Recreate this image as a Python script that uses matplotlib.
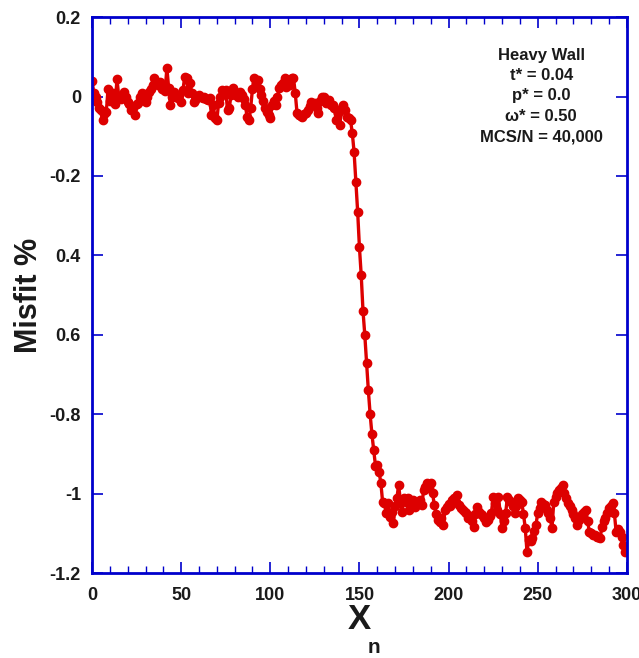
import matplotlib
matplotlib.use('Agg')
from matplotlib import pyplot as plt
from matplotlib.ticker import MultipleLocator
import numpy as np

plt.rcParams['font.family'] = ['Liberation Sans', 'DejaVu Sans']
plt.rcParams['font.weight'] = 'bold'

# misfit values, one per site 0..300
misfit = [
    0.04, 0.01, 0.0, -0.015, -0.03, -0.035, -0.06, -0.045, -0.04, 0.02,
    -0.01, 0.0, 0.01, -0.02, 0.044, 0.0, -0.005, 0.005, 0.011, 0.0,
    -0.014, -0.02, -0.034, -0.03, -0.047, -0.02, -0.016, 0.0, 0.009, -0.005,
    -0.014, 0.0, 0.011, 0.02, 0.03, 0.047, 0.035, 0.029, 0.037, 0.02,
    0.03, 0.015, 0.072, 0.021, -0.021, 0.0, 0.011, 0.0, -0.004, 0.005,
    -0.014, 0.016, 0.05, 0.047, 0.009, 0.034, 0.01, -0.014, -0.009, 0.0,
    0.004, 0.0, -0.004, 0.0, -0.005, -0.009, -0.004, -0.047, -0.021, -0.054,
    -0.06, -0.016, 0.0, 0.016, 0.01, 0.016, -0.034, -0.029, 0.005, 0.021,
    0.01, 0.004, 0.0, 0.011, 0.005, -0.005, -0.021, -0.052, -0.06, -0.029,
    0.02, 0.047, 0.035, 0.042, 0.02, 0.004, -0.01, -0.029, -0.04, -0.047,
    -0.054, -0.021, -0.01, -0.021, 0.0, 0.021, 0.03, 0.035, 0.047, 0.024,
    0.035, 0.03, 0.047, 0.047, 0.009, -0.042, -0.047, -0.05, -0.052, -0.045,
    -0.042, -0.034, -0.025, -0.014, -0.02, -0.016, -0.03, -0.042, -0.01, 0.0,
    0.0, -0.016, -0.014, -0.009, -0.021, -0.021, -0.03, -0.06, -0.042, -0.072,
    -0.03, -0.021, -0.034, -0.052, -0.054, -0.06, -0.092, -0.14, -0.215, -0.29,
    -0.38, -0.45, -0.54, -0.60, -0.67, -0.74, -0.80, -0.85, -0.89, -0.93,
    -0.929, -0.945, -0.972, -1.021, -1.024, -1.049, -1.024, -1.059, -1.046, -1.074,
    -1.03, -1.011, -0.978, -1.02, -1.046, -1.011, -1.02, -1.011, -1.041, -1.025,
    -1.016, -1.034, -1.02, -1.024, -1.015, -1.029, -0.991, -0.983, -0.973, -0.985,
    -0.973, -0.998, -1.029, -1.05, -1.067, -1.072, -1.06, -1.079, -1.041, -1.034,
    -1.025, -1.03, -1.016, -1.01, -1.02, -1.004, -1.029, -1.035, -1.04, -1.045,
    -1.049, -1.06, -1.055, -1.07, -1.084, -1.05, -1.034, -1.045, -1.05, -1.054,
    -1.06, -1.071, -1.065, -1.055, -1.049, -1.009, -1.024, -1.041, -1.009, -1.05,
    -1.087, -1.07, -1.049, -1.009, -1.015, -1.021, -1.03, -1.049, -1.03, -1.011,
    -1.015, -1.021, -1.05, -1.087, -1.147, -1.117, -1.12, -1.112, -1.095, -1.079,
    -1.049, -1.035, -1.021, -1.025, -1.029, -1.04, -1.049, -1.06, -1.087, -1.021,
    -1.009, -0.998, -0.99, -0.985, -0.978, -0.998, -1.01, -1.024, -1.03, -1.041,
    -1.05, -1.06, -1.079, -1.065, -1.059, -1.05, -1.045, -1.041, -1.07, -1.097,
    -1.1, -1.103, -1.105, -1.108, -1.11, -1.112, -1.084, -1.07, -1.06, -1.049,
    -1.035, -1.03, -1.024, -1.049, -1.097, -1.09, -1.097, -1.11, -1.13, -1.147,
    -1.145,
]
sites = np.arange(len(misfit))

yticks = [0.2, 0, -0.2, -0.4, -0.6, -0.8, -1, -1.2]
ytick_labels = ['0.2', '0', '-0.2', '0.4', '0.6', '-0.8', '-1', '-1.2']
xticks = [0, 50, 100, 150, 200, 250, 300]

info = 'Heavy Wall\nt* = 0.04\np* = 0.0\n\u03c9* = 0.50\nMCS/N = 40,000'

red = '#dd0000'
blue = '#0000cc'
ink = '#1a1a1a'

fig = plt.figure(figsize=(6.39, 6.58), dpi=100)
ax = fig.add_axes([0.144, 0.129, 0.837, 0.845])

ax.plot(sites, misfit, color=red, lw=2.4, marker='o', ms=6, mec=red, mfc=red)

ax.set_xlim(0, 300)
ax.set_ylim(-1.2, 0.2)
ax.set_xticks(xticks)
ax.set_xticklabels([str(t) for t in xticks])
ax.xaxis.set_minor_locator(MultipleLocator(10))
ax.set_yticks(yticks)
ax.set_yticklabels(ytick_labels)

for s in ax.spines.values():
    s.set_color(blue)
    s.set_linewidth(2)

ax.tick_params(which='both', direction='in', color=blue, top=True, right=True,
               labelcolor=ink, labelsize=13)
ax.tick_params(which='major', length=8, width=1.2)
ax.tick_params(which='minor', length=5, width=1.0)
ax.tick_params(axis='x', pad=10)
ax.tick_params(axis='y', pad=8)

ax.set_ylabel('Misfit %', fontsize=22, fontweight='bold', color=ink, labelpad=4)
ax.set_xlabel('X', fontsize=25, fontweight='bold', color=ink, labelpad=-1)
fig.text(0.575, 0.008, 'n', fontsize=15, fontweight='bold', color=ink)

ax.text(0.84, 0.945, info, transform=ax.transAxes, ha='center', va='top',
        fontsize=12, fontweight='bold', color=ink, linespacing=1.45)

fig.savefig('out.png', dpi=100)
